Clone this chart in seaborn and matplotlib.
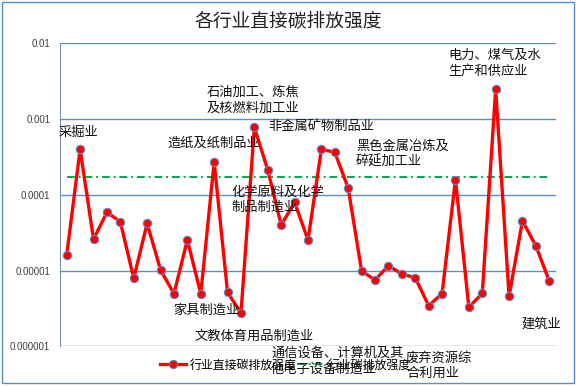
import matplotlib
matplotlib.use("Agg")
import matplotlib.pyplot as plt
from matplotlib.patches import Rectangle
import seaborn as sns
import pandas as pd
import numpy as np

# ---- data ----
direct_intensity = [1.60e-5, 3.99e-4, 2.59e-5, 5.87e-5, 4.41e-5, 7.9e-6, 4.2e-5, 1.02e-5,
                    4.95e-6, 2.53e-5, 4.95e-6, 2.69e-4, 5.16e-6, 2.75e-6, 7.78e-4, 2.12e-4,
                    3.99e-5, 7.96e-5, 2.53e-5, 3.99e-4, 3.64e-4, 1.22e-4, 9.86e-6, 7.5e-6,
                    1.16e-5, 9.0e-6, 8.05e-6, 3.44e-6, 4.95e-6, 1.58e-4, 3.27e-6, 5.0e-6,
                    2.47e-3, 4.61e-6, 4.55e-5, 2.11e-5, 7.27e-6]
overall_intensity = 1.73e-4
series_names = ["行业直接碳排放强度", "行业碳排放强度"]
title = "各行业直接碳排放强度"
ytick_values = [1e-6, 1e-5, 1e-4, 1e-3, 1e-2]
ytick_labels = ["0.000001", "0.00001", "0.0001", "0.001", "0.01"]
annotations = ["采掘业", "造纸及纸制品业", "石油加工、炼焦\n及核燃料加工业", "非金属矿物制品业",
               "黑色金属冶炼及\n碎延加工业", "化学原料及化学\n制品制造业", "家具制造业",
               "文教体育用品制造业", "通信设备、计算机及其\n他电子设备制造业", "废弃资源综\n合利用业",
               "电力、煤气及水\n生产和供应业", "建筑业"]
# label anchor positions in figure pixels (left, vertical center)
annotation_pos = [(59, 132), (167, 143), (207, 100), (268, 126), (356, 154), (231, 200),
                  (173, 310), (195, 336), (271, 361), (406, 366), (448, 63), (521, 324)]

W, H = 576, 386
plt.rcParams['font.family'] = ['Noto Sans CJK SC', 'DejaVu Sans']

fig = plt.figure(figsize=(W / 100, H / 100), dpi=100)
ax = fig.add_axes([60 / W, (H - 346.3) / H, (556 - 60) / W, (346.3 - 43.3) / H])

n = len(direct_intensity)
df = pd.DataFrame({"idx": np.arange(n), "value": direct_intensity})
avg = pd.DataFrame({"idx": np.arange(n), "value": [overall_intensity] * n})

grid_c = "#5B8FC9"
sns.lineplot(data=avg, x="idx", y="value", ax=ax, color="#00A84F", lw=1.4,
             linestyle=(0, (4, 2, 1, 2)), label=series_names[1], zorder=2)
sns.lineplot(data=df, x="idx", y="value", ax=ax, color="#FF0000", lw=2.4,
             marker="o", markersize=6, markerfacecolor="#FF0000",
             markeredgecolor=grid_c, markeredgewidth=0.8, label=series_names[0], zorder=3)

ax.set_yscale("log")
ax.set_ylim(1e-6, 1e-2)
ax.set_xlim(-0.5, n - 0.5)
ax.set_yticks(ytick_values)
ax.set_yticklabels(ytick_labels)
ax.minorticks_off()
ax.yaxis.set_minor_locator(matplotlib.ticker.NullLocator())
ax.set_xticks([])
ax.set_xlabel("")
ax.set_ylabel("")
ax.tick_params(axis="y", length=0, pad=7, labelsize=7, labelcolor="#404040")
for lab in ax.get_yticklabels():
    lab.set_family(["Liberation Sans", "DejaVu Sans"])
ax.grid(axis="y", color=grid_c, lw=1)
ax.set_axisbelow(True)
for s in ["top", "right", "bottom"]:
    ax.spines[s].set_visible(False)
ax.spines["left"].set_color("#7F8FA6")
ax.spines["left"].set_linewidth(0.8)
ax.patch.set_alpha(0)

# title
fig.text(288 / W, 1 - 22 / H, title, ha="center", va="center", fontsize=13.5, color="#222222")

# annotations
for txt, (px, py) in zip(annotations, annotation_pos):
    fig.text(px / W, 1 - py / H, txt, ha="left", va="center", fontsize=9.5,
             color="#111111", linespacing=1.25)

# legend
handles, labels = ax.get_legend_handles_labels()
order = [labels.index(series_names[0]), labels.index(series_names[1])]
leg = ax.legend([handles[i] for i in order], [labels[i] for i in order],
                loc="center", bbox_to_anchor=(285 / W, 1 - 365 / H),
                bbox_transform=fig.transFigure, ncol=2, frameon=False,
                fontsize=8.6, handlelength=2.2, handletextpad=0.3, columnspacing=0.1,
                borderpad=0)

# figure border
fig.patches.append(Rectangle((2 / W, 3 / H), (574 - 2) / W, (384 - 3) / H,
                             transform=fig.transFigure, fill=False,
                             edgecolor=grid_c, lw=1))

fig.savefig("out.png", dpi=100)
